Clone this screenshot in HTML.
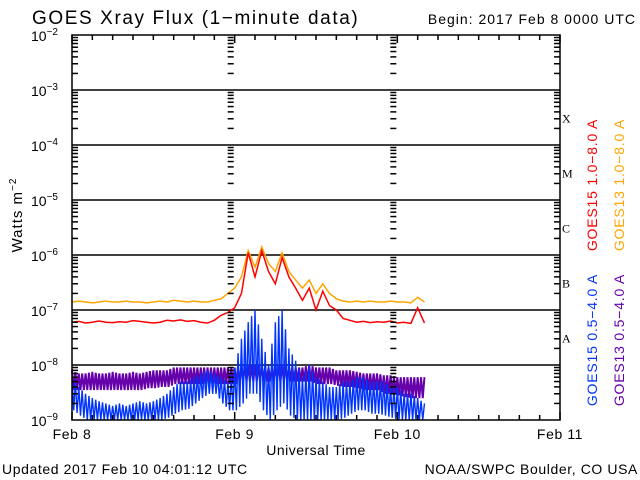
<!DOCTYPE html>
<html><head><meta charset="utf-8"><style>
html,body{margin:0;padding:0;background:#fff;}
svg{display:block;font-family:"Liberation Sans",sans-serif;}
</style></head><body>
<svg id="chart" width="640" height="480" viewBox="0 0 640 480">
<text x="32" y="24" font-size="19" letter-spacing="1.6" fill="#000">GOES Xray Flux (1−minute data)</text>
<text x="636" y="24" font-size="14" letter-spacing="1" text-anchor="end" fill="#000">Begin:  2017 Feb 8 0000 UTC</text>
<g id="grid"></g>
<g id="series"></g>
<rect x="72" y="35" width="488" height="385" fill="none" stroke="#000" stroke-width="1.5"/>
<g id="axes"></g>
<text transform="translate(22,215) rotate(-90)" font-size="15" letter-spacing="1" text-anchor="middle">Watts m<tspan dy="-6" font-size="10">−2</tspan></text>
<text x="316" y="455" font-size="14" letter-spacing="0.5" text-anchor="middle">Universal Time</text>
<text x="2" y="474" font-size="14" letter-spacing="0.6">Updated 2017 Feb 10 04:01:12 UTC</text>
<text x="638" y="474" font-size="14" letter-spacing="0.6" text-anchor="end">NOAA/SWPC Boulder, CO USA</text>
<text transform="translate(597,185) rotate(-90)" font-size="14" letter-spacing="0.8" text-anchor="middle" fill="#ff0000">GOES15 1.0−8.0 A</text>
<text transform="translate(624,185) rotate(-90)" font-size="14" letter-spacing="0.8" text-anchor="middle" fill="#ffa500">GOES13 1.0−8.0 A</text>
<text transform="translate(597,340) rotate(-90)" font-size="14" letter-spacing="0.8" text-anchor="middle" fill="#0033ff">GOES15 0.5−4.0 A</text>
<text transform="translate(624,340) rotate(-90)" font-size="14" letter-spacing="0.8" text-anchor="middle" fill="#6600aa">GOES13 0.5−4.0 A</text>
</svg>
<script>
const dayLabels = ["Feb 8","Feb 9","Feb 10","Feb 11"];
const decades = [-9,-8,-7,-6,-5,-4,-3,-2];
const classLetters = ["A","B","C","M","X"];
// hourly values from Feb 8 00:00 UTC
const goes15Long = [6e-8,6.2e-8,5.8e-8,6e-8,6.3e-8,6e-8,5.9e-8,6.1e-8,6e-8,6.4e-8,6.2e-8,6e-8,5.8e-8,6e-8,6.5e-8,6.3e-8,6.6e-8,6.2e-8,6.4e-8,6e-8,5.8e-8,6.5e-8,8e-8,9e-8,1.1e-7,2e-7,1.1e-6,4e-7,1.2e-6,5e-7,3e-7,9e-7,4e-7,2.5e-7,1.5e-7,2.5e-7,1e-7,2.2e-7,1.2e-7,1e-7,7e-8,6.5e-8,6e-8,6.2e-8,5.9e-8,6.1e-8,6e-8,6.3e-8,5.8e-8,6e-8,5.7e-8,1.1e-7,5.8e-8];
const goes13Long = [1.4e-7,1.45e-7,1.4e-7,1.35e-7,1.4e-7,1.45e-7,1.4e-7,1.4e-7,1.45e-7,1.4e-7,1.4e-7,1.35e-7,1.4e-7,1.45e-7,1.4e-7,1.5e-7,1.45e-7,1.4e-7,1.45e-7,1.4e-7,1.4e-7,1.5e-7,1.6e-7,2e-7,2.5e-7,4e-7,1.2e-6,6e-7,1.4e-6,7e-7,5e-7,1.1e-6,5e-7,3.5e-7,2.5e-7,3.5e-7,2e-7,3e-7,2e-7,1.6e-7,1.45e-7,1.4e-7,1.45e-7,1.4e-7,1.45e-7,1.4e-7,1.4e-7,1.45e-7,1.4e-7,1.4e-7,1.35e-7,1.7e-7,1.4e-7];
const goes13ShortHi = [8e-9,7e-9,7e-9,7.5e-9,7e-9,7e-9,7.5e-9,7e-9,7e-9,7.5e-9,7e-9,7.5e-9,8e-9,8e-9,8e-9,9e-9,9e-9,9e-9,9e-9,9e-9,9e-9,9e-9,9e-9,9e-9,9e-9,1e-8,1e-8,1e-8,1e-8,9e-9,1e-8,1e-8,1e-8,9e-9,9e-9,1e-8,9e-9,9e-9,9e-9,8e-9,8e-9,8e-9,7.5e-9,7e-9,7e-9,7e-9,6.5e-9,6.5e-9,6e-9,6e-9,6e-9,6e-9,6e-9];
const goes13ShortLo = [3.5e-9,3.5e-9,3.5e-9,3.5e-9,3.5e-9,3.5e-9,3.5e-9,3.5e-9,3.5e-9,3.5e-9,3.5e-9,3.8e-9,3.8e-9,4e-9,4e-9,4.5e-9,4.5e-9,4.5e-9,4.5e-9,4.5e-9,4.5e-9,4.5e-9,4.5e-9,4.5e-9,4.5e-9,5e-9,5e-9,5e-9,5e-9,5e-9,5e-9,5e-9,5e-9,5e-9,5e-9,5e-9,4.5e-9,4.5e-9,4.5e-9,4.2e-9,4e-9,4e-9,3.8e-9,3.5e-9,3.5e-9,3.5e-9,3e-9,3e-9,2.8e-9,2.6e-9,2.5e-9,2.5e-9,2.5e-9];
const goes15ShortHi = [6e-9,4e-9,3e-9,2.5e-9,2.2e-9,2e-9,1.8e-9,2e-9,1.8e-9,2e-9,2.2e-9,2e-9,2.2e-9,2.5e-9,3e-9,4e-9,5e-9,5e-9,6e-9,7e-9,8e-9,7e-9,6e-9,5e-9,9e-9,3e-8,6e-8,1e-7,3e-8,1e-8,6e-8,1e-7,2e-8,1.2e-8,6e-9,1e-8,6e-9,5e-9,4e-9,4e-9,5e-9,5e-9,6e-9,6e-9,5e-9,5e-9,5e-9,4e-9,4e-9,3e-9,3e-9,2.5e-9,2e-9];
const goes15ShortLo = [1.5e-9,1.2e-9,1e-9,1e-9,1e-9,1e-9,1e-9,1e-9,1e-9,1e-9,1e-9,1e-9,1e-9,1e-9,1.1e-9,1.3e-9,1.5e-9,1.6e-9,2e-9,2.5e-9,3e-9,3e-9,2e-9,1.5e-9,1.5e-9,2e-9,3e-9,3e-9,1.5e-9,1e-9,1.5e-9,2e-9,1.2e-9,1e-9,1e-9,1e-9,1e-9,1e-9,1e-9,1e-9,1.1e-9,1.3e-9,1.5e-9,1.5e-9,1.3e-9,1.3e-9,1.2e-9,1.1e-9,1e-9,1e-9,1e-9,1e-9,1e-9];

const NS="http://www.w3.org/2000/svg";
const X0=72, DAYW=162.67, YB=420, DEC=55;
function xScale(hours){return X0+hours/24*DAYW;}
function yScale(v){return Math.min(YB,YB-DEC*(Math.log10(v)+9));}
function mk(tag,attrs,parent){const e=document.createElementNS(NS,tag);for(const k in attrs)e.setAttribute(k,attrs[k]);parent.appendChild(e);return e;}
const grid=document.getElementById('grid'), axes=document.getElementById('axes'), ser=document.getElementById('series');

decades.forEach(d=>{
  const y=YB-DEC*(d+9);
  if(d>-9 && d<-2){const l=mk('line',{x1:72,x2:560,y1:y,y2:y,stroke:'#000','stroke-width':1.5},grid);
    
    }
  const t=mk('text',{x:58,y:y+6,'font-size':14,'text-anchor':'end'},axes);
  
  
  t.textContent='10';
  const s=mk('tspan',{dy:-6,'font-size':10},t); s.textContent=String(d).replace('-','−');
  if(d<-2){for(let m=2;m<=9;m++){const yy=y-DEC*Math.log10(m);
    [[72,78],[554,560],[xScale(24)-7,xScale(24)-1],[xScale(48)-7,xScale(48)-1]].forEach(p=>{
      const tk=mk('line',{x1:p[0],x2:p[1],y1:yy,y2:yy,stroke:'#000','stroke-width':1.5},axes);
      
      });}}
});
classLetters.forEach((c,i)=>{
  const y=YB-DEC*(i+1.5)+5;
  const t=mk('text',{x:562,y:y,'font-size':12,'font-family':'Liberation Serif, serif'},axes);
  
  
  t.textContent=c;
});
for(let h=0;h<=72;h+=3){const x=xScale(h);const len=(h%24===0)?8:5;
  [[35,35+len],[420-len,420]].forEach(p=>{const tk=mk('line',{x1:x,x2:x,y1:p[0],y2:p[1],stroke:'#000','stroke-width':1.5},axes);
    
    });}
dayLabels.forEach((lab,i)=>{const t=mk('text',{x:xScale(i*24),y:439,'font-size':14,'text-anchor':'middle','letter-spacing':0.6},axes);
  
  
  t.textContent=lab;});

function zig(hi,lo,color,name,w){
  const pts=[];
  for(let i=0;i<hi.length-1;i++){
    pts.push(xScale(i)+','+yScale(hi[i]));
    pts.push(xScale(i+0.25)+','+yScale(lo[i]));
    pts.push(xScale(i+0.5)+','+yScale(Math.sqrt(hi[i]*hi[i+1])));
    pts.push(xScale(i+0.75)+','+yScale(Math.sqrt(lo[i]*lo[i+1])));
  }
  const n=hi.length-1;
  pts.push(xScale(n)+','+yScale(hi[n]));
  const p=mk('polyline',{points:pts.join(' '),fill:'none',stroke:color,'stroke-width':w},ser);
  
  
}
function line(vals,color,name){
  const p=mk('polyline',{points:vals.map((v,i)=>xScale(i)+','+yScale(v)).join(' '),fill:'none',stroke:color,'stroke-width':1.5},ser);
  
  
}
zig(goes13ShortHi,goes13ShortLo,'#6600aa','goes13-short-series',2);
zig(goes15ShortHi,goes15ShortLo,'#0033ff','goes15-short-series',1.4);
line(goes13Long,'#ffa500','goes13-long-series');
line(goes15Long,'#ff0000','goes15-long-series');
</script>
</body></html>
